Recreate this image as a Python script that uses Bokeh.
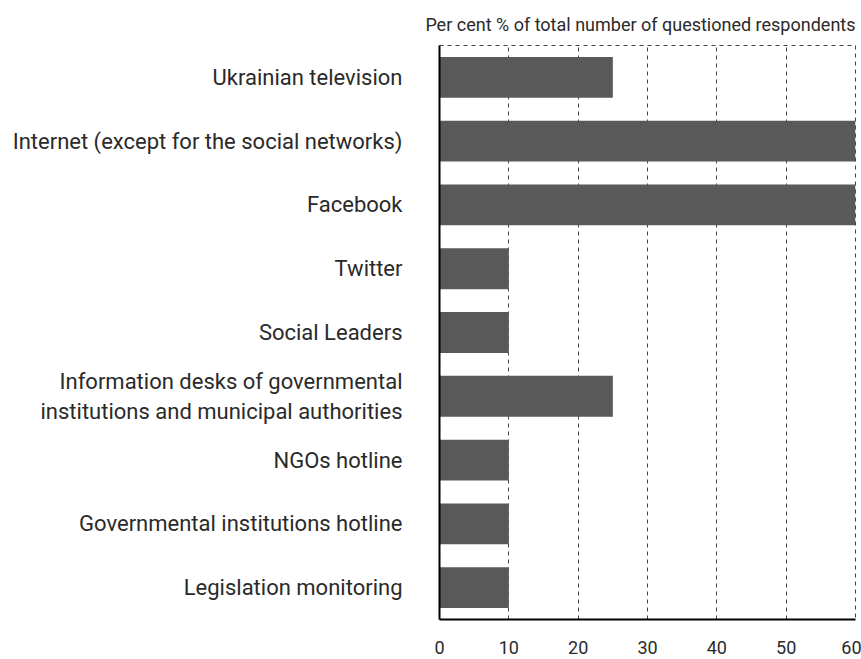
from bokeh.plotting import figure
from bokeh.models import Title
from bokeh.embed import file_html
from bokeh.resources import INLINE

categories = [
    "Ukrainian television",
    "Internet (except for the social networks)",
    "Facebook",
    "Twitter",
    "Social Leaders",
    "Information desks of governmental\ninstitutions and municipal authorities",
    "NGOs hotline",
    "Governmental institutions hotline",
    "Legislation monitoring",
]
values = [25, 60, 60, 10, 10, 25, 10, 10, 10]
x_ticks = [0, 10, 20, 30, 40, 50, 60]
title_text = "Per cent % of total number of questioned respondents"

FONT = "Roboto"

p = figure(
    width=861, height=659,
    y_range=list(reversed(categories)),
    x_range=(0, 60),
    output_backend="svg", toolbar_location=None,
    min_border_left=439, min_border_right=6,
    min_border_top=45, min_border_bottom=40,
)
p.hbar(y=categories, right=values, left=0, height=0.64, color="#595959", line_color=None)

t = Title(text=title_text, align="right", text_font=FONT, text_font_size="18px",
          text_font_style="normal", text_color="#2a2a2a", standoff=21)
p.add_layout(t, "above")

p.xaxis.ticker = x_ticks
p.xaxis.major_tick_line_color = None
p.xaxis.minor_tick_line_color = None
p.xaxis.axis_line_color = "black"
p.xaxis.axis_line_width = 2
p.xaxis.major_label_standoff = 15
p.xaxis.major_label_text_font = FONT
p.xaxis.major_label_text_font_size = "18px"
p.xaxis.major_label_text_color = "#2a2a2a"

p.yaxis.major_tick_line_color = None
p.yaxis.minor_tick_line_color = None
p.yaxis.axis_line_color = "black"
p.yaxis.axis_line_width = 2
p.yaxis.major_label_standoff = 31
p.yaxis.major_label_text_font = FONT
p.yaxis.major_label_text_font_size = "22px"
p.yaxis.major_label_text_color = "#2a2a2a"

p.ygrid.grid_line_color = None
p.xgrid.grid_line_color = "#444444"
p.xgrid.grid_line_dash = "4 4"
p.xgrid.grid_line_width = 1

p.outline_line_color = "#444444"
p.outline_line_dash = "4 4"
p.outline_line_width = 1
p.background_fill_color = "white"
p.border_fill_color = "white"

open("out.html", "w").write(file_html(p, INLINE))
